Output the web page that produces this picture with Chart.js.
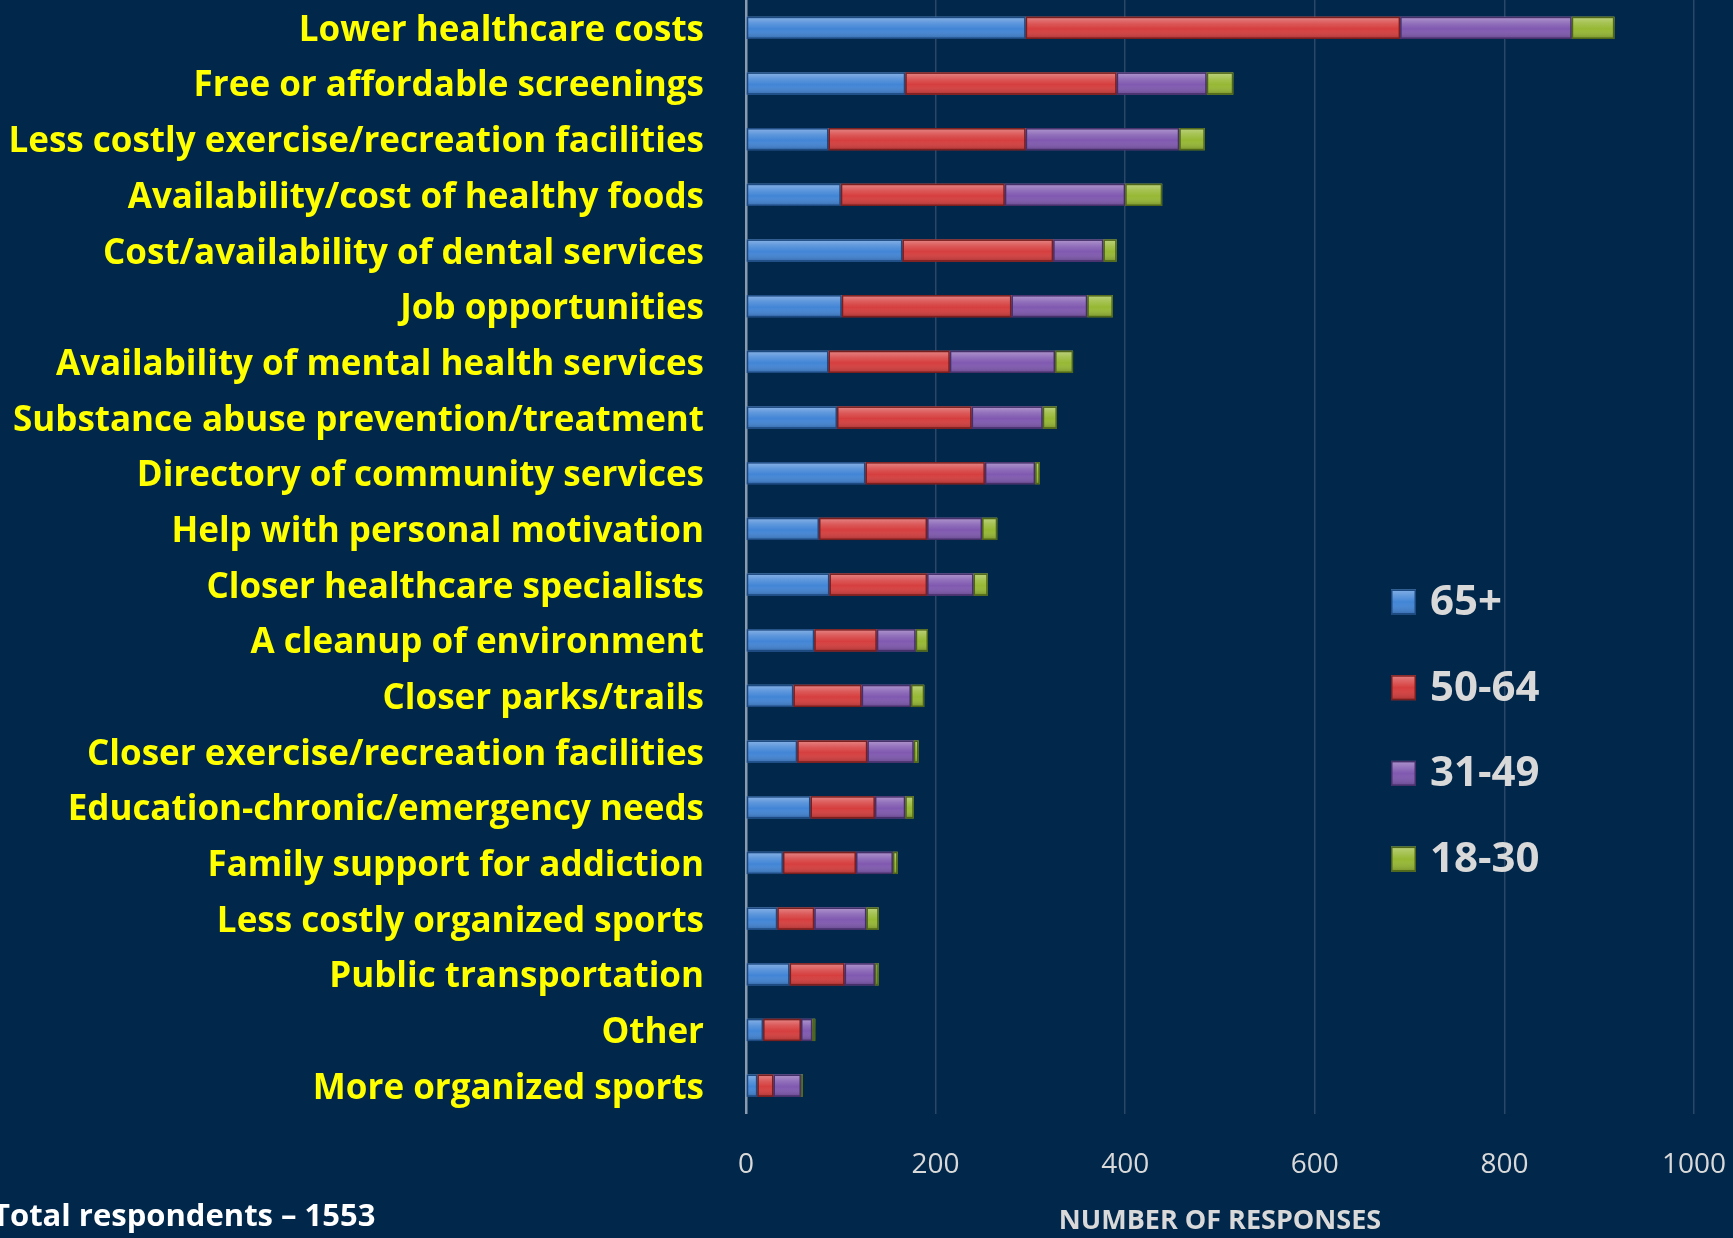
<!DOCTYPE html>
<html>
<head>
<meta charset="utf-8">
<title>Number of responses by age group</title>
<script src="https://cdn.jsdelivr.net/npm/chart.js@4.4.1/dist/chart.umd.min.js"></script>
<style>
    html, body {
        margin: 0;
        padding: 0;
        background: #01274b;
        overflow: hidden;
    }
    #wrap {
        position: relative;
        width: 1733px;
        height: 1238px;
    }
</style>
</head>
<body>
<div id="wrap">
    <canvas id="chart" width="1733" height="1238"></canvas>
</div>
<script>
// Categorías (de arriba a abajo)
const categories = [
    'Lower healthcare costs',
    'Free or affordable screenings',
    'Less costly exercise/recreation facilities',
    'Availability/cost of healthy foods',
    'Cost/availability of dental services',
    'Job opportunities',
    'Availability of mental health services',
    'Substance abuse prevention/treatment',
    'Directory of community services',
    'Help with personal motivation',
    'Closer healthcare specialists',
    'A cleanup of environment',
    'Closer parks/trails',
    'Closer exercise/recreation facilities',
    'Education-chronic/emergency needs',
    'Family support for addiction',
    'Less costly organized sports',
    'Public transportation',
    'Other',
    'More organized sports'
];

// Respuestas por grupo de edad
const age65plus = [295, 168, 87, 100, 165, 101, 87, 96, 126, 77, 88, 72, 50, 54, 68, 39, 33, 46, 18, 12];
const age50to64 = [395, 223, 208, 173, 159, 179, 128, 142, 126, 114, 103, 66, 72, 74, 68, 77, 39, 58, 40, 17];
const age31to49 = [181, 95, 162, 127, 53, 80, 111, 75, 53, 58, 49, 41, 52, 49, 32, 39, 55, 32, 12, 29];
const age18to30 = [45, 28, 27, 39, 14, 27, 19, 15, 5, 16, 15, 13, 14, 5, 9, 5, 13, 4, 3, 2];

const seriesLabels = ['65+', '50-64', '31-49', '18-30'];
const xTicks = [0, 200, 400, 600, 800, 1000];
const totalText = 'Total respondents \u2013 1553';

// Colores
const fills = ['#4285d6', '#d63e3e', '#8059b0', '#96b834'];
const edges = ['#1d4a80', '#7a1e1e', '#45306a', '#4f6618'];

// Efecto biselado encima de cada barra
const bevelPlugin = {
    id: 'bevel',
    afterDatasetsDraw(chart) {
        const ctx = chart.ctx;
        chart.data.datasets.forEach((ds, i) => {
            const meta = chart.getDatasetMeta(i);
            meta.data.forEach((bar) => {
                const p = bar.getProps(['x', 'y', 'base', 'height'], true);
                const left = Math.min(p.x, p.base);
                const right = Math.max(p.x, p.base);
                const top = p.y - p.height / 2;
                const w = right - left;
                if (w < 1) return;
                const g = ctx.createLinearGradient(0, top, 0, top + p.height);
                g.addColorStop(0, 'rgba(255,255,255,0.38)');
                g.addColorStop(0.3, 'rgba(255,255,255,0.14)');
                g.addColorStop(0.55, 'rgba(255,255,255,0)');
                g.addColorStop(1, 'rgba(0,0,0,0.22)');
                ctx.save();
                ctx.fillStyle = g;
                ctx.fillRect(left, top, w, p.height);
                ctx.strokeStyle = edges[i];
                ctx.lineWidth = 1.5;
                ctx.strokeRect(left + 0.75, top + 0.75, w - 1.5, p.height - 1.5);
                ctx.restore();
            });
        });
    }
};

// Leyenda y texto de total dibujados a mano
const extrasPlugin = {
    id: 'extras',
    afterDraw(chart) {
        const ctx = chart.ctx;
        ctx.save();
        chart.data.datasets.forEach((ds, i) => {
            const cy = 602 + i * 85.7;
            const x = 1391;
            const s = 25;
            const g = ctx.createLinearGradient(0, cy - s / 2, 0, cy + s / 2);
            g.addColorStop(0, 'rgba(255,255,255,0.35)');
            g.addColorStop(0.5, 'rgba(255,255,255,0)');
            g.addColorStop(1, 'rgba(0,0,0,0.2)');
            ctx.fillStyle = fills[i];
            ctx.fillRect(x, cy - s / 2, s, s);
            ctx.fillStyle = g;
            ctx.fillRect(x, cy - s / 2, s, s);
            ctx.strokeStyle = edges[i];
            ctx.lineWidth = 1.5;
            ctx.strokeRect(x + 0.75, cy - s / 2 + 0.75, s - 1.5, s - 1.5);

            ctx.fillStyle = '#d9d9d9';
            ctx.font = 'bold 42px "Open Sans"';
            ctx.textAlign = 'left';
            ctx.textBaseline = 'middle';
            ctx.fillText(ds.label, 1430, cy + 1);
        });

        ctx.fillStyle = '#ffffff';
        ctx.font = 'bold 31px "Open Sans"';
        ctx.textAlign = 'left';
        ctx.textBaseline = 'alphabetic';
        ctx.fillText(totalText, -8, 1226);
        ctx.restore();
    }
};

const series = [age65plus, age50to64, age31to49, age18to30];

const ctx = document.getElementById('chart').getContext('2d');
const chart = new Chart(ctx, {
    type: 'bar',
    data: {
        labels: categories,
        datasets: series.map((values, i) => ({
            label: seriesLabels[i],
            data: values,
            backgroundColor: fills[i],
            borderWidth: 0,
            barPercentage: 0.4,
            categoryPercentage: 1
        }))
    },
    options: {
        indexAxis: 'y',
        responsive: false,
        animation: false,
        layout: {
            padding: { top: 0, right: 39, bottom: 0, left: 0 }
        },
        plugins: {
            legend: { display: false },
            tooltip: { enabled: false }
        },
        scales: {
            x: {
                stacked: true,
                min: 0,
                max: 1000,
                afterBuildTicks: (scale) => {
                    scale.ticks = xTicks.map(v => ({ value: v }));
                },
                afterFit: (scale) => {
                    scale.height = 124.5;
                    scale.paddingLeft = 0;
                    scale.paddingRight = 0;
                },
                ticks: {
                    color: '#d9d9d9',
                    font: { family: 'Open Sans', size: 28 },
                    padding: 35,
                    callback: (v) => String(v)
                },
                grid: {
                    color: '#2a4768',
                    lineWidth: 1.5,
                    drawTicks: false
                },
                border: { display: false },
                title: {
                    display: true,
                    text: 'NUMBER OF RESPONSES',
                    color: '#d9d9d9',
                    font: { family: 'Open Sans', size: 27, weight: 'bold' },
                    padding: { top: 0, bottom: 0 }
                }
            },
            y: {
                stacked: true,
                afterFit: (scale) => {
                    scale.width = 746;
                    scale.paddingTop = 0;
                    scale.paddingBottom = 0;
                },
                ticks: {
                    color: '#ffff00',
                    font: { family: 'Open Sans', size: 35, weight: 'bold' },
                    padding: 42,
                    labelOffset: 3
                },
                grid: { display: false, drawTicks: false },
                border: { color: '#8a9bb0', width: 2.5 }
            }
        }
    },
    plugins: [bevelPlugin, extrasPlugin]
});
</script>
</body>
</html>
